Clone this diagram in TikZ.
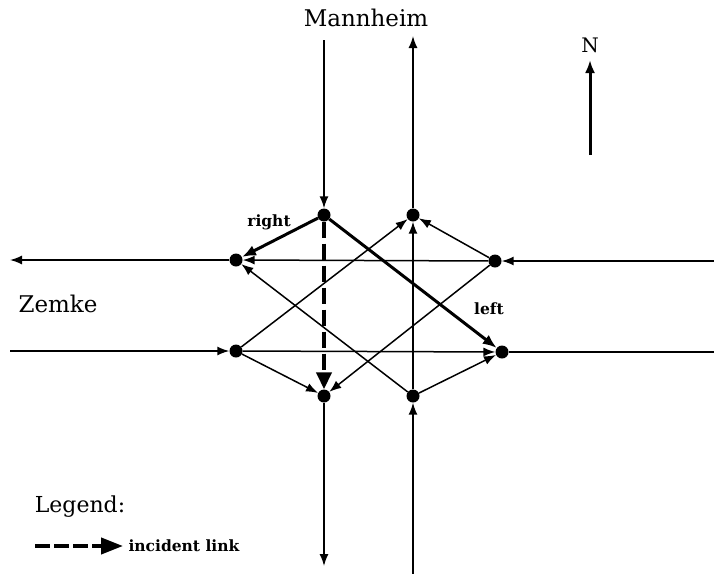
\documentclass[tikz,border=0pt]{standalone}
\usepackage{fontspec}
\setmainfont{DejaVu Serif}
\usetikzlibrary{arrows.meta}

\begin{document}
\begin{tikzpicture}[x=1pt, y=-1pt,
  dot/.style={circle, fill=black, minimum size=13pt, inner sep=0pt},
  link/.style={line width=1.5pt, -{Latex[length=12pt, width=9pt]}},
  turn/.style={line width=3pt, -{Latex[length=14pt, width=11pt]}},
  incident/.style={line width=4pt, dash pattern=on 16pt off 6pt, -{Triangle[length=17pt, width=15pt]}},
  lbl/.style={font=\fontsize{15.5}{18}\selectfont\bfseries},
  big/.style={font=\fontsize{23}{26}\selectfont}]
  \useasboundingbox (0,0) rectangle (714,573);
  % intersection nodes
  \node[dot] (a) at (324,215) {};
  \node[dot] (b) at (413,215) {};
  \node[dot] (c) at (236,260) {};
  \node[dot] (d) at (495,261) {};
  \node[dot] (e) at (236,351) {};
  \node[dot] (f) at (502,352) {};
  \node[dot] (g) at (324,396) {};
  \node[dot] (h) at (413,396) {};
  % free ends of the approach and exit links
  \coordinate (sin) at (324,40);
  \coordinate (nout) at (413,36);
  \coordinate (wout) at (10,260);
  \coordinate (ein) at (716,261);
  \coordinate (win) at (10,351);
  \coordinate (eout) at (726,352);
  \coordinate (sout) at (324,566);
  \coordinate (nin) at (413,578);
  \draw[link] (sin) -- (a);
  \draw[link] (b) -- (nout);
  \draw[link] (c) -- (wout);
  \draw[link] (ein) -- (d);
  \draw[link] (win) -- (e);
  \draw[link] (f) -- (eout);
  \draw[link] (g) -- (sout);
  \draw[link] (nin) -- (h);
  % turning movements
  \draw[link] (d) -- (c);
  \draw[link] (d) -- (b);
  \draw[link] (d) -- (g);
  \draw[link] (e) -- (f);
  \draw[link] (e) -- (b);
  \draw[link] (e) -- (g);
  \draw[link] (h) -- (b);
  \draw[link] (h) -- (c);
  \draw[link] (h) -- (f);
  \draw[turn] (a) -- (c);
  \draw[turn] (a) -- (f);
  \draw[incident] (a) -- (g);
  \node[lbl] (right) at (269,222) {right};
  \node[lbl] (left) at (489,309) {left};
  % street names and north arrow
  \node[big] (mannheim) at (366,18) {Mannheim};
  \node[big] (zemke) at (58,304) {Zemke};
  \node[font=\fontsize{20}{22}\selectfont] (north) at (590,45) {N};
  \coordinate (nbase) at (590,155);
  \coordinate (ntip) at (590,60);
  \draw[line width=3pt, -{Latex[length=13pt, width=10pt]}] (nbase) -- (ntip);
  % legend
  \node[font=\fontsize{22}{25}\selectfont] (legend) at (80,507) {Legend:};
  \coordinate (lstart) at (35,546);
  \coordinate (lend) at (123,546);
  \draw[incident, dash pattern=on 15pt off 4pt, -{Triangle[length=22pt, width=16pt]}] (lstart) -- (lend);
  \node[lbl, anchor=west] (inc) at (125,546) {incident link};
\end{tikzpicture}
\end{document}
